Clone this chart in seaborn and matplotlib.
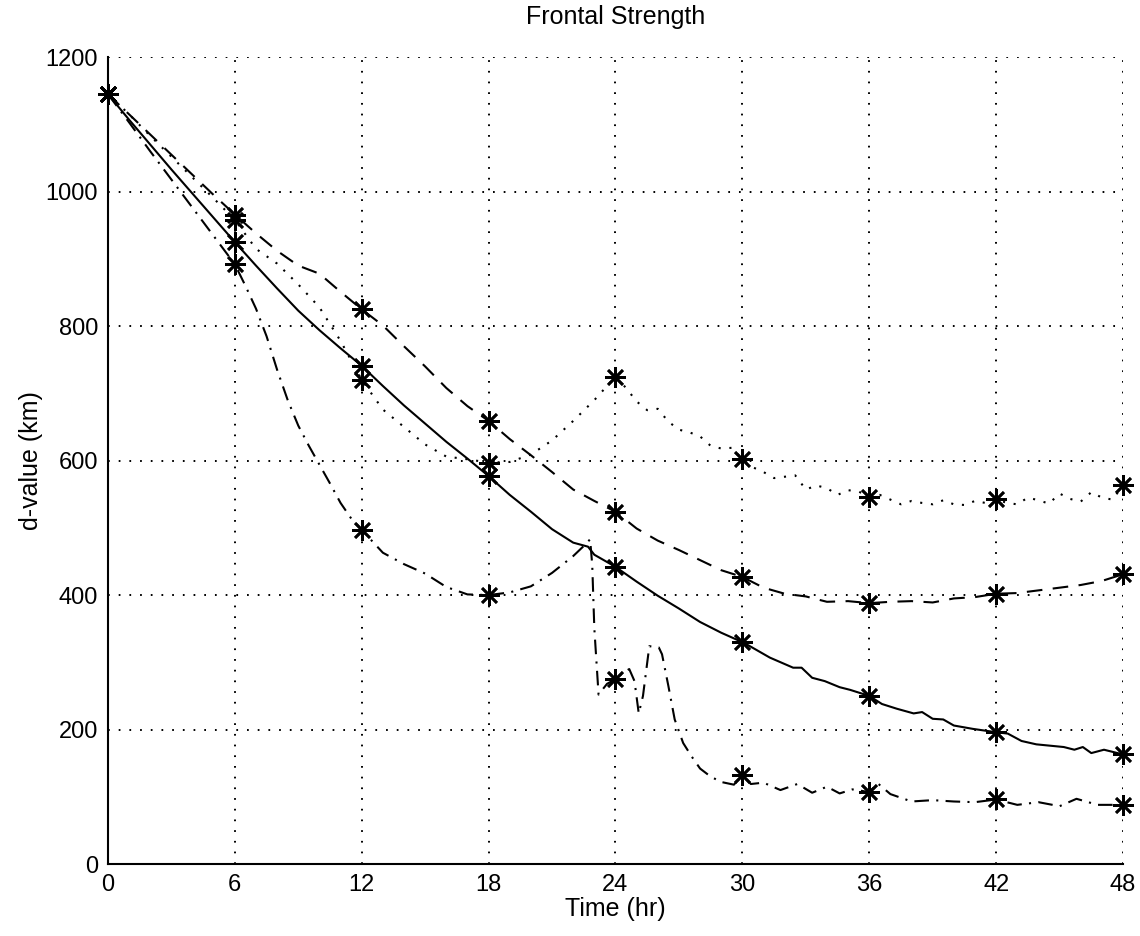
import numpy as np
import matplotlib
matplotlib.use("Agg")
import matplotlib.pyplot as plt
import seaborn as sns

# ---- data: d-value (km) versus forecast time (hr) ----
solid_hr = [0, 1, 2, 3, 4, 5, 6, 7, 8, 9, 10, 11, 12, 13, 14, 15, 16, 17, 18,
            19, 20, 21, 22, 22.7, 23, 24, 25, 26, 27, 28, 29, 30, 30.3, 31.3,
            32.4, 32.8, 33.3, 33.9, 34.6, 35.1, 36, 36.6, 37.3, 38.1, 38.5, 39,
            39.5, 40, 40.9, 42, 42.55, 43.2, 43.9, 45.2, 45.7, 46.1, 46.5, 47.1, 48]
solid_km = [1145, 1107, 1070, 1033, 997, 961, 925, 890, 856, 823, 794, 767, 741,
            711, 682, 655, 628, 603, 577, 549, 524, 498, 478, 472, 460, 442, 420,
            399, 380, 360, 344, 330, 325, 307, 292, 292, 277, 272, 263, 259, 250,
            238, 231, 224, 226, 216, 215, 206, 201, 196, 194, 183, 178, 174, 170,
            174, 165, 170, 163]

dashed_hr = [0, 1, 2, 3, 4, 5, 6, 7, 8, 9, 10, 11, 12, 13, 14, 15, 16, 17, 18,
             19, 20, 21, 22, 23, 24, 25, 26, 27, 28, 29, 30, 31, 32, 33, 34, 35,
             36, 37, 38, 39, 40, 41, 42, 43, 44, 45, 46, 47, 48]
dashed_km = [1145, 1115, 1085, 1055, 1025, 995, 966, 938, 912, 890, 878, 851,
             825, 801, 770, 740, 708, 681, 659, 632, 608, 583, 557, 540, 524, 499,
             481, 467, 452, 437, 427, 411, 402, 398, 390, 391, 388, 390, 391, 389,
             395, 397, 402, 403, 407, 411, 415, 421, 431]

dotted_hr = [0, 1, 2, 3, 4, 5, 6, 7, 8, 9, 10, 11, 12, 13, 14, 15, 16, 17, 18,
             19, 20, 21, 22, 23, 24, 24.5, 25, 25.5, 26, 26.5, 27, 27.5, 28, 28.5,
             29, 29.5, 30, 30.5, 31, 31.5, 32, 32.5, 33, 33.5, 34, 34.5, 35, 35.5,
             36, 36.5, 37, 37.5, 38, 38.5, 39, 39.5, 40, 40.5, 41, 41.5, 42, 42.5,
             43, 43.5, 44, 44.5, 45, 45.5, 46, 46.5, 47, 47.5, 48]
dotted_km = [1145, 1115, 1083, 1052, 1021, 990, 958, 915, 893, 862, 828, 778, 720,
             676, 650, 624, 606, 602, 597, 598, 609, 630, 659, 690, 725, 708, 688,
             675, 677, 658, 646, 642, 636, 622, 618, 619, 602, 590, 583, 574, 576,
             578, 557, 563, 559, 549, 556, 554, 546, 549, 542, 535, 540, 537, 535,
             541, 535, 534, 540, 537, 543, 537, 535, 545, 541, 536, 551, 543, 539,
             553, 545, 542, 563]

dashdot_hr = [0, 1, 2, 3, 4, 5, 6, 6.5, 7, 7.5, 8, 8.5, 9, 9.5, 10, 10.5, 11,
              11.5, 12, 13, 14, 15, 16, 17, 18, 19, 20, 21, 22, 22.6, 22.8, 22.9,
              23.0, 23.2, 23.6, 24, 24.3, 24.65, 24.9, 25.1, 25.3, 25.6, 26.05,
              26.2, 26.5, 26.8, 27.2, 27.6, 28, 28.5, 29, 29.6, 30, 30.4, 31, 31.8,
              32.6, 33.3, 34, 34.6, 35.2, 36, 36.4, 37, 38, 39, 40, 41, 42, 43, 44,
              45, 45.8, 46.8, 48]
dashdot_km = [1145, 1103, 1060, 1018, 976, 934, 892, 860, 826, 785, 735, 690, 652,
              622, 594, 566, 537, 514, 497, 463, 446, 432, 412, 401, 400, 404, 413,
              433, 458, 476, 483, 445, 350, 252, 268, 275, 283, 290, 272, 224, 250,
              324, 322, 312, 265, 215, 180, 160, 142, 130, 122, 118, 133, 119, 121,
              110, 119, 106, 115, 105, 111, 107, 120, 104, 93, 95, 93, 92, 96, 88,
              92, 86, 97, 88, 88]

series = [
    (solid_hr, solid_km, "-"),
    (dashed_hr, dashed_km, (0, (7.5, 5))),
    (dotted_hr, dotted_km, (0, (1, 4.2))),
    (dashdot_hr, dashdot_km, (0, (7, 3.5, 1, 3.5))),
]

x_ticks = [0, 6, 12, 18, 24, 30, 36, 42, 48]
y_ticks = [0, 200, 400, 600, 800, 1000, 1200]

sns.set_style("white")
plt.rcParams["font.family"] = ["Liberation Sans", "DejaVu Sans"]
plt.rcParams.update({
    "text.color": "black",
    "axes.labelcolor": "black",
    "xtick.color": "black",
    "ytick.color": "black",
})

fig = plt.figure(figsize=(11.4, 9.36), dpi=100)
ax = fig.add_axes([0.0947, 0.0769, 0.8904, 0.862])

asterisk = (8, 2, 0)
for hr, km, ls in series:
    hr_arr = np.asarray(hr, dtype=float)
    marks = np.flatnonzero(np.isclose(np.mod(hr_arr, 6), 0))
    sns.lineplot(x=hr, y=km, ax=ax, color="black", linestyle=ls, linewidth=1.5,
                 marker=asterisk, markevery=list(marks), markersize=15,
                 markeredgewidth=1.9, markeredgecolor="black", errorbar=None,
                 sort=False, zorder=3, clip_on=False)

ax.set_xlim(0, 48)
ax.set_ylim(0, 1200)
ax.set_xticks(x_ticks)
ax.set_yticks(y_ticks)
ax.grid(True, color="black", linestyle=(0, (0.9, 4.6)), linewidth=1.4)

for side in ("top", "right"):
    ax.spines[side].set_visible(False)
for side in ("left", "bottom"):
    ax.spines[side].set_color("black")
    ax.spines[side].set_linewidth(1.5)

ax.tick_params(axis="both", direction="in", length=7, width=1.2, colors="black",
               labelsize=17, pad=7)

ax.set_xlabel("Time (hr)", fontsize=18, labelpad=1)
ax.set_ylabel("d-value (km)", fontsize=18, labelpad=2)
ax.set_title("Frontal Strength", fontsize=18, pad=24)

fig.savefig("out.png", dpi=100, facecolor="white")
